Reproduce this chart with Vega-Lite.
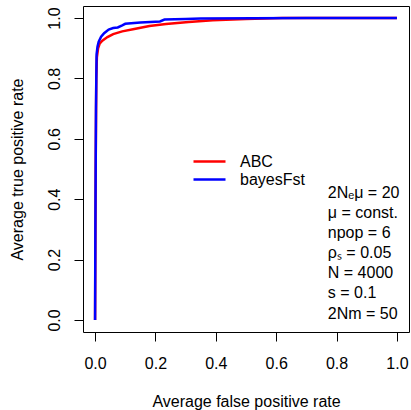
{
  "$schema": "https://vega.github.io/schema/vega-lite/v6.json",
  "width": 326,
  "height": 326,
  "autosize": {"type": "none"},
  "padding": {"left": 83, "top": 6, "right": 2, "bottom": 78},
  "background": "white",
  "config": {
    "view": {"stroke": "black", "strokeWidth": 1},
    "font": "Liberation Sans",
    "axis": {
      "domain": false,
      "grid": false,
      "tickColor": "black",
      "tickSize": 9,
      "tickWidth": 1,
      "labelColor": "black",
      "labelFont": "Liberation Sans",
      "labelFontSize": 16,
      "titleFont": "Liberation Sans",
      "titleFontSize": 16,
      "titleFontWeight": "normal",
      "titleColor": "black"
    },
    "legend": {
      "orient": "none",
      "legendX": 117,
      "legendY": 146,
      "padding": 0,
      "title": null,
      "symbolType": "M-2,0H2",
      "symbolSize": 256,
      "symbolStrokeWidth": 2.5,
      "labelFont": "Liberation Sans",
      "labelFontSize": 16,
      "labelColor": "black",
      "labelOffset": 21,
      "rowPadding": 0
    }
  },
  "layer": [
    {
      "data": {
        "values": [
          {"method": "ABC", "fpr": 0, "tpr": 0},
          {"method": "ABC", "fpr": 0.002, "tpr": 0.5},
          {"method": "ABC", "fpr": 0.004, "tpr": 0.8},
          {"method": "ABC", "fpr": 0.006, "tpr": 0.87},
          {"method": "ABC", "fpr": 0.01, "tpr": 0.9},
          {"method": "ABC", "fpr": 0.015, "tpr": 0.915},
          {"method": "ABC", "fpr": 0.024, "tpr": 0.925},
          {"method": "ABC", "fpr": 0.041, "tpr": 0.937},
          {"method": "ABC", "fpr": 0.06, "tpr": 0.947},
          {"method": "ABC", "fpr": 0.09, "tpr": 0.956},
          {"method": "ABC", "fpr": 0.13, "tpr": 0.964},
          {"method": "ABC", "fpr": 0.18, "tpr": 0.974},
          {"method": "ABC", "fpr": 0.235, "tpr": 0.98},
          {"method": "ABC", "fpr": 0.31, "tpr": 0.987},
          {"method": "ABC", "fpr": 0.39, "tpr": 0.993},
          {"method": "ABC", "fpr": 0.5, "tpr": 0.997},
          {"method": "ABC", "fpr": 0.62, "tpr": 1.0},
          {"method": "ABC", "fpr": 1.0, "tpr": 1.0},
          {"method": "bayesFst", "fpr": 0, "tpr": 0},
          {"method": "bayesFst", "fpr": 0.001, "tpr": 0.3},
          {"method": "bayesFst", "fpr": 0.003, "tpr": 0.7},
          {"method": "bayesFst", "fpr": 0.005, "tpr": 0.88},
          {"method": "bayesFst", "fpr": 0.008, "tpr": 0.905},
          {"method": "bayesFst", "fpr": 0.012, "tpr": 0.922},
          {"method": "bayesFst", "fpr": 0.02, "tpr": 0.938},
          {"method": "bayesFst", "fpr": 0.03, "tpr": 0.95},
          {"method": "bayesFst", "fpr": 0.045, "tpr": 0.962},
          {"method": "bayesFst", "fpr": 0.06, "tpr": 0.967},
          {"method": "bayesFst", "fpr": 0.075, "tpr": 0.969},
          {"method": "bayesFst", "fpr": 0.09, "tpr": 0.976},
          {"method": "bayesFst", "fpr": 0.1, "tpr": 0.981},
          {"method": "bayesFst", "fpr": 0.15, "tpr": 0.985},
          {"method": "bayesFst", "fpr": 0.2, "tpr": 0.988},
          {"method": "bayesFst", "fpr": 0.215, "tpr": 0.989},
          {"method": "bayesFst", "fpr": 0.23, "tpr": 0.995},
          {"method": "bayesFst", "fpr": 0.3, "tpr": 0.997},
          {"method": "bayesFst", "fpr": 0.35, "tpr": 0.999},
          {"method": "bayesFst", "fpr": 0.7, "tpr": 1.0},
          {"method": "bayesFst", "fpr": 1.0, "tpr": 1.0}
        ]
      },
      "mark": {"type": "line", "strokeWidth": 2.5, "clip": true},
      "encoding": {
        "x": {
          "field": "fpr", "type": "quantitative",
          "scale": {"domain": [-0.04, 1.04], "nice": false, "zero": false},
          "axis": {"title": "Average false positive rate", "values": [0, 0.2, 0.4, 0.6, 0.8, 1], "format": ".1f", "labelPadding": 14, "titlePadding": 22}
        },
        "y": {
          "field": "tpr", "type": "quantitative",
          "scale": {"domain": [-0.04, 1.04], "nice": false, "zero": false},
          "axis": {"title": "Average true positive rate", "values": [0, 0.2, 0.4, 0.6, 0.8, 1], "format": ".1f", "labelAngle": 270, "labelPadding": 12, "titlePadding": 21}
        },
        "color": {
          "field": "method", "type": "nominal",
          "scale": {"domain": ["ABC", "bayesFst"], "range": ["#ff0000", "#0000ff"]}
        },
        "order": {"field": "fpr", "type": "quantitative"}
      }
    },
    {
      "data": {"values": [{"note": "parameters"}]},
      "mark": {
        "type": "text",
        "align": "left",
        "baseline": "top",
        "font": "Liberation Sans",
        "fontSize": 16,
        "lineHeight": 20.1,
        "color": "black",
        "text": ["2Nₑμ = 20", "μ = const.", "npop = 6", "ρₛ = 0.05", "N = 4000", "s = 0.1", "2Nm = 50"]
      },
      "encoding": {
        "x": {"datum": 0.771, "type": "quantitative"},
        "y": {"datum": 0.447, "type": "quantitative"}
      }
    }
  ]
}
